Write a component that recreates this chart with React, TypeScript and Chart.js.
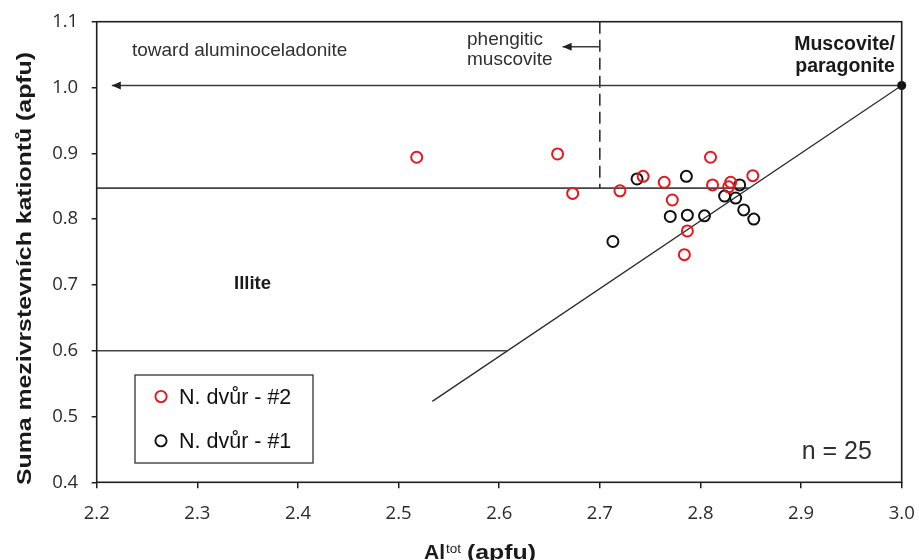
import React, { useEffect, useRef } from "react";
import { Chart, registerables } from "chart.js";

Chart.register(...registerables);

// ---------- data ----------
const xTickValues = [2.2, 2.3, 2.4, 2.5, 2.6, 2.7, 2.8, 2.9, 3.0];
const yTickValues = [0.4, 0.5, 0.6, 0.7, 0.8, 0.9, 1.0, 1.1];

const seriesNames = ["N. dvůr - #2", "N. dvůr - #1"];

// N. dvůr - #2 (red)
const dvur2Al = [2.518, 2.658, 2.673, 2.72, 2.743, 2.764, 2.772, 2.81, 2.812, 2.83, 2.828, 2.852, 2.787, 2.784];
const dvur2Sum = [0.894, 0.899, 0.839, 0.843, 0.865, 0.856, 0.829, 0.894, 0.852, 0.856, 0.849, 0.866, 0.782, 0.746];

// N. dvůr - #1 (black)
const dvur1Al = [2.737, 2.786, 2.839, 2.824, 2.835, 2.843, 2.853, 2.77, 2.787, 2.804, 2.713];
const dvur1Sum = [0.861, 0.865, 0.852, 0.835, 0.832, 0.814, 0.8, 0.804, 0.806, 0.805, 0.766];

// reference lines / end member
const muscoviteAl = [3.0];
const muscoviteSum = [1.003];
const celadoniteArrowAl = [3.0, 2.215];
const celadoniteArrowSum = [1.003, 1.003];
const phengiteArrowAl = [2.7, 2.663];
const phengiteArrowSum = [1.062, 1.062];
const phengiteDivideAl = [2.7, 2.7];
const phengiteDivideSum = [1.1, 0.847];
const illiteUpperAl = [2.2, 2.8484];
const illiteUpperSum = [0.847, 0.847];
const illiteLowerAl = [2.2, 2.6083];
const illiteLowerSum = [0.6, 0.6];
const trendAl = [2.5335, 3.0];
const trendSum = [0.523, 1.003];

const sampleCount = "n = 25";

// ---------- helpers ----------
const pts = (xs: number[], ys: number[]) => xs.map((x, i) => ({ x, y: ys[i] }));

const SANS = '"Liberation Sans", Arial, sans-serif';
const TICKFONT = '"Open Sans", sans-serif';

type Lbl = { text: string; x: number; y: number; align: CanvasTextAlign; bold: boolean; size: number };
const annotations: Lbl[] = [
  { text: "toward aluminoceladonite", x: 2.235, y: 1.0472, align: "left", bold: false, size: 19 },
  { text: "phengitic", x: 2.568, y: 1.0642, align: "left", bold: false, size: 19 },
  { text: "muscovite", x: 2.568, y: 1.0342, align: "left", bold: false, size: 19 },
  { text: "Muscovite/", x: 2.9933, y: 1.057, align: "right", bold: true, size: 19.5 },
  { text: "paragonite", x: 2.9933, y: 1.0241, align: "right", bold: true, size: 19.5 },
  { text: "Illite", x: 2.3365, y: 0.6937, align: "left", bold: true, size: 18.5 },
  { text: sampleCount, x: 2.9006, y: 0.4356, align: "left", bold: false, size: 25 },
];

function fitText(ctx: CanvasRenderingContext2D, s: string, x: number, y: number, w: number) {
  const m = ctx.measureText(s).width;
  ctx.save();
  ctx.translate(x, y);
  ctx.scale(w / m, 1);
  ctx.fillText(s, 0, 0);
  ctx.restore();
}

function arrowHeadLeft(ctx: CanvasRenderingContext2D, tx: number, ty: number) {
  ctx.beginPath();
  ctx.moveTo(tx, ty);
  ctx.lineTo(tx + 9, ty - 4);
  ctx.lineTo(tx + 9, ty + 4);
  ctx.closePath();
  ctx.fillStyle = "#222";
  ctx.fill();
}

const overlay = {
  id: "overlay",
  afterDraw(chart: any) {
    const { ctx, chartArea: a, scales } = chart;
    const x = scales.x;
    const y = scales.y;
    ctx.save();

    // frame
    ctx.strokeStyle = "#1e1e1e";
    ctx.lineWidth = 1.6;
    ctx.strokeRect(a.left, a.top, a.right - a.left, a.bottom - a.top);

    // arrow heads
    arrowHeadLeft(ctx, x.getPixelForValue(celadoniteArrowAl[1]), y.getPixelForValue(celadoniteArrowSum[1]));
    arrowHeadLeft(ctx, x.getPixelForValue(phengiteArrowAl[1]), y.getPixelForValue(phengiteArrowSum[1]));

    // annotations
    ctx.textBaseline = "alphabetic";
    for (const l of annotations) {
      ctx.font = `${l.bold ? "bold " : ""}${l.size}px ${SANS}`;
      ctx.fillStyle = l.bold ? "#1a1a1a" : "#303030";
      ctx.textAlign = l.align;
      ctx.fillText(l.text, x.getPixelForValue(l.x), y.getPixelForValue(l.y));
    }

    // legend
    const lgL = a.left + 38.3;
    const lgT = a.top + 353.3;
    ctx.strokeStyle = "#333";
    ctx.lineWidth = 1.3;
    ctx.strokeRect(lgL, lgT, 178, 88);
    chart.data.datasets.slice(0, 2).forEach((ds: any, i: number) => {
      const cy = lgT + 21.5 + i * 44.3;
      ctx.beginPath();
      ctx.arc(lgL + 26, cy, 5.6, 0, Math.PI * 2);
      ctx.strokeStyle = ds.borderColor;
      ctx.lineWidth = 1.9;
      ctx.stroke();
      ctx.font = `21.5px ${SANS}`;
      ctx.fillStyle = "#111";
      ctx.textAlign = "left";
      ctx.textBaseline = "alphabetic";
      ctx.fillText(ds.label, lgL + 44, cy + 7.5);
    });

    // y title
    ctx.save();
    ctx.translate(30.5, 268.5);
    ctx.rotate(-Math.PI / 2);
    ctx.font = `bold 21px ${SANS}`;
    ctx.fillStyle = "#1a1a1a";
    ctx.textAlign = "center";
    ctx.textBaseline = "alphabetic";
    fitText(ctx, "Suma mezivrstevních kationtů (apfu)", 0, 0, 433);
    ctx.restore();

    // x title: Al^tot (apfu)
    ctx.fillStyle = "#1a1a1a";
    ctx.textAlign = "left";
    ctx.textBaseline = "alphabetic";
    const bx = a.left + 327.3;
    const by = 559;
    ctx.font = `bold 21px ${SANS}`;
    fitText(ctx, "Al", bx, by, 21);
    ctx.font = `13px ${SANS}`;
    fitText(ctx, "tot", bx + 22, by - 6, 15);
    ctx.font = `bold 21px ${SANS}`;
    fitText(ctx, "(apfu)", bx + 43, by, 69);

    ctx.restore();
  },
};

const lineStyle = (color: string, width: number, dash: number[] = []) => ({
  showLine: true,
  pointRadius: 0,
  borderColor: color,
  borderWidth: width,
  borderDash: dash,
  backgroundColor: "rgba(0,0,0,0)",
  order: 5,
});

export default function App() {
  const ref = useRef<HTMLCanvasElement | null>(null);

  useEffect(() => {
    if (!ref.current) return;
    const chart = new Chart(ref.current, {
      type: "scatter",
      data: {
        datasets: [
          {
            label: seriesNames[0],
            data: pts(dvur2Al, dvur2Sum),
            pointRadius: 5.5,
            borderWidth: 2,
            borderColor: "#e8161e",
            backgroundColor: "rgba(0,0,0,0)",
            order: 0,
          },
          {
            label: seriesNames[1],
            data: pts(dvur1Al, dvur1Sum),
            pointRadius: 5.5,
            borderWidth: 2,
            borderColor: "#111111",
            backgroundColor: "rgba(0,0,0,0)",
            order: 1,
          },
          {
            label: "Muscovite/paragonite",
            data: pts(muscoviteAl, muscoviteSum),
            pointRadius: 4.5,
            borderWidth: 0,
            backgroundColor: "#111",
            borderColor: "#111",
            clip: 10,
            order: 2,
          },
          { label: "celadonite", data: pts(celadoniteArrowAl, celadoniteArrowSum), ...lineStyle("#3c3c3c", 1.5) },
          { label: "phengite", data: pts(phengiteArrowAl, phengiteArrowSum), ...lineStyle("#3c3c3c", 1.5) },
          { label: "divide", data: pts(phengiteDivideAl, phengiteDivideSum), ...lineStyle("#333", 1.6, [12, 6]) },
          { label: "upper", data: pts(illiteUpperAl, illiteUpperSum), ...lineStyle("#444", 1.6) },
          { label: "lower", data: pts(illiteLowerAl, illiteLowerSum), ...lineStyle("#444", 1.5) },
          { label: "trend", data: pts(trendAl, trendSum), ...lineStyle("#2a2a2a", 1.3) },
        ] as any,
      },
      options: {
        animation: false,
        responsive: false,
        devicePixelRatio: 1,
        layout: { padding: { top: 21.7, right: 17.3, left: 0, bottom: 0 } },
        plugins: { legend: { display: false }, tooltip: { enabled: false } },
        scales: {
          x: {
            type: "linear",
            min: 2.2,
            max: 3.0,
            afterBuildTicks: (s: any) => {
              s.ticks = xTickValues.map((v) => ({ value: v }));
            },
            afterFit: (s: any) => {
              s.height = 77.7;
              s.paddingLeft = 0;
              s.paddingRight = 0;
            },
            border: { display: false },
            grid: { drawOnChartArea: false, drawTicks: true, tickLength: 6, color: "#1e1e1e", lineWidth: 1.5 },
            ticks: {
              autoSkip: false,
              maxRotation: 0,
              padding: 14,
              color: "#2b2b2b",
              font: { family: TICKFONT, size: 18.5 },
              callback: (v: any) => Number(v).toFixed(1),
            },
          },
          y: {
            type: "linear",
            min: 0.4,
            max: 1.1,
            afterBuildTicks: (s: any) => {
              s.ticks = yTickValues.map((v) => ({ value: v }));
            },
            afterFit: (s: any) => {
              s.width = 96.7;
              s.paddingTop = 0;
              s.paddingBottom = 0;
            },
            border: { display: false },
            grid: { drawOnChartArea: false, drawTicks: true, tickLength: 5, color: "#1e1e1e", lineWidth: 1.5 },
            ticks: {
              autoSkip: false,
              padding: 13.5,
              color: "#2b2b2b",
              font: { family: TICKFONT, size: 18.5 },
              callback: (v: any) => Number(v).toFixed(1),
            },
          },
        },
      },
      plugins: [overlay],
    });
    return () => chart.destroy();
  }, []);

  return (
    <canvas
      ref={ref}
      width={919}
      height={560}
      style={{ position: "fixed", left: 0, top: 0, width: 919, height: 560 }}
    />
  );
}
